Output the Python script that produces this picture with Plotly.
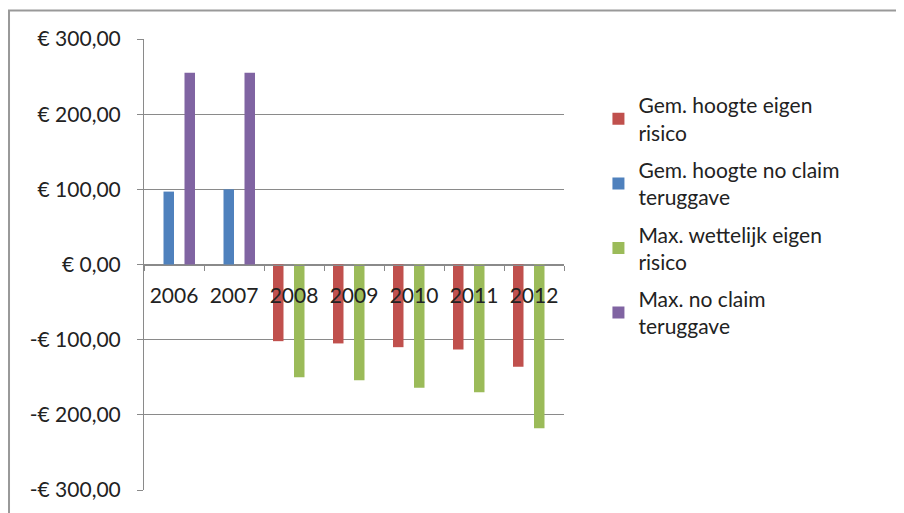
import plotly.graph_objects as go

years = ["2006", "2007", "2008", "2009", "2010", "2011", "2012"]
gem_eigen_risico = [None, None, -102, -105, -110, -113, -136]
gem_no_claim = [97, 100, None, None, None, None, None]
max_eigen_risico = [None, None, -150, -154, -164, -170, -218]
max_no_claim = [255, 255, None, None, None, None, None]

series_names = [
    "Gem. hoogte eigen<br>risico",
    "Gem. hoogte no claim<br>teruggave",
    "Max. wettelijk eigen<br>risico",
    "Max. no claim<br>teruggave",
]
series_values = [gem_eigen_risico, gem_no_claim, max_eigen_risico, max_no_claim]
colors = ["#C0504D", "#4F81BD", "#9BBB59", "#8064A2"]

y_ticks = [-300, -200, -100, 0, 100, 200, 300]
y_tick_text = ["-€ 300,00", "-€ 200,00", "-€ 100,00", "€ 0,00", "€ 100,00", "€ 200,00", "€ 300,00"]

FONT = "Lato"
GRID = "#8a8a8a"
TXT = "#222222"

fig = go.Figure()
for i, (name, vals, col) in enumerate(zip(series_names, series_values, colors)):
    fig.add_trace(go.Bar(x=years, y=vals, name=name, legendgroup=f"g{i}",
                         marker=dict(color=col, line=dict(width=0))))

fig.update_layout(
    width=896, height=505,
    margin=dict(l=136, r=340, t=31, b=16),
    paper_bgcolor="white", plot_bgcolor="white",
    barmode="group", bargap=0.3, bargroupgap=0,
    font=dict(family=FONT, size=21, color=TXT),
    showlegend=True,
    legend=dict(x=1.082, y=0.898, xanchor="left", yanchor="top",
                font=dict(family=FONT, size=21, color=TXT),
                itemwidth=30, tracegroupgap=7, bgcolor="rgba(0,0,0,0)"),
    xaxis=dict(type="category", anchor="free", position=0.5,
               showline=True, linecolor=GRID, linewidth=1,
               ticks="outside", tickson="boundaries", ticklen=5, tickcolor=GRID,
               ticklabelstandoff=12,
               showgrid=False, tickfont=dict(family=FONT, size=21, color=TXT)),
    yaxis=dict(range=[-300, 300], tickvals=y_ticks, ticktext=y_tick_text,
               showline=True, linecolor=GRID, linewidth=1,
               ticks="outside", ticklen=6, tickcolor=GRID,
               ticklabelstandoff=12,
               showgrid=True, gridcolor=GRID, gridwidth=1,
               zeroline=True, zerolinecolor=GRID, zerolinewidth=1,
               tickfont=dict(family=FONT, size=21, color=TXT)),
    shapes=[dict(type="rect", xref="paper", yref="paper",
                 x0=-0.3214, x1=2.2, y0=-0.3, y1=1.0632,
                 line=dict(color="#999999", width=2), layer="below")],
)

fig.write_html("out.html")
